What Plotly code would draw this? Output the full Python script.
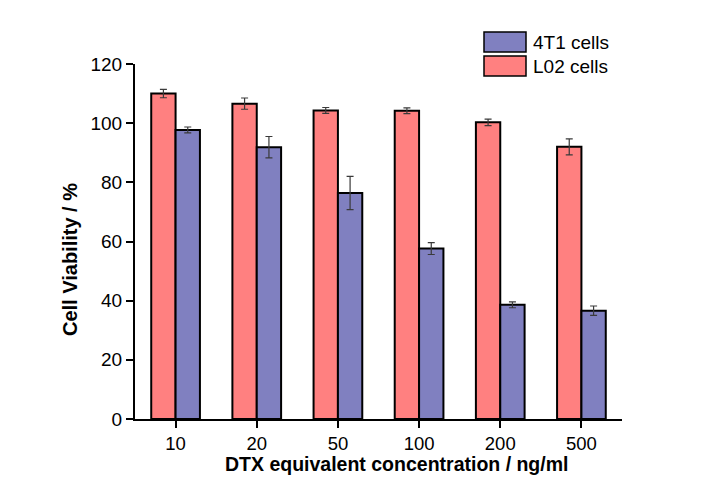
import plotly.graph_objects as go

# Cell viability after 48 h exposure, mean ± SD
concentrations = ["10", "20", "50", "100", "200", "500"]
l02_viability = [110.0, 106.6, 104.3, 104.2, 100.3, 92.0]
l02_sd = [1.4, 1.9, 1.0, 1.0, 1.1, 2.7]
t41_viability = [97.7, 91.9, 76.4, 57.6, 38.6, 36.6]
t41_sd = [1.0, 3.6, 5.6, 2.0, 1.0, 1.6]

series_names = ["L02 cells", "4T1 cells"]
red_fill = "#FF8080"
blue_fill = "#8080C0"

W, H = 709, 492
ML, MR, MT, MB = 135, 87, 64, 73
PW, PH = W - ML - MR, H - MT - MB


def px_x(p):
    return (p - ML) / PW


def px_y(p):
    return (H - MB - p) / PH


FONT = "Liberation Sans, Arial, sans-serif"
err_style = dict(type="data", visible=True, color="#3a3a3a", thickness=1.2, width=3.5)

fig = go.Figure()
fig.add_trace(go.Bar(
    x=concentrations, y=l02_viability, name=series_names[0],
    marker=dict(color=red_fill, line=dict(color="black", width=2)),
    error_y=dict(array=l02_sd, **err_style), showlegend=False,
))
fig.add_trace(go.Bar(
    x=concentrations, y=t41_viability, name=series_names[1],
    marker=dict(color=blue_fill, line=dict(color="black", width=2)),
    error_y=dict(array=t41_sd, **err_style), showlegend=False,
))

# legend drawn as boxed swatches with labels
legend_items = [(series_names[1], blue_fill, 32, 52), (series_names[0], red_fill, 56, 76)]
for label, col, top, bot in legend_items:
    fig.add_shape(type="rect", xref="paper", yref="paper",
                  x0=px_x(484), x1=px_x(526), y0=px_y(bot), y1=px_y(top),
                  fillcolor=col, line=dict(color="black", width=1.5))
    fig.add_annotation(text=label, xref="paper", yref="paper",
                       x=px_x(531), y=px_y((top + bot) / 2),
                       xanchor="left", yanchor="middle", showarrow=False,
                       font=dict(family=FONT, size=19, color="black"))

fig.add_annotation(text="<b>DTX equivalent concentration / ng/ml</b>",
                   xref="paper", yref="paper", x=px_x(396), y=px_y(464),
                   xanchor="center", yanchor="middle", showarrow=False,
                   font=dict(family=FONT, size=19.5, color="black"))
fig.add_annotation(text="<b>Cell Viability / %</b>", textangle=-90,
                   xref="paper", yref="paper", x=px_x(70), y=px_y(260),
                   xanchor="center", yanchor="middle", showarrow=False,
                   font=dict(family=FONT, size=20, color="black"))

fig.update_layout(
    width=W, height=H,
    margin=dict(l=ML, r=MR, t=MT, b=MB, pad=0),
    paper_bgcolor="white", plot_bgcolor="white",
    barmode="group", bargap=0.4, bargroupgap=0.0,
    font=dict(family=FONT, size=19, color="black"),
    xaxis=dict(type="category", range=[-0.5, 5.5], showline=True, linecolor="black",
               linewidth=2, ticks="outside", ticklen=7, tickwidth=2, tickcolor="black",
               showgrid=False, zeroline=False, tickfont=dict(size=18.5)),
    yaxis=dict(range=[0, 120], dtick=20, showline=True, linecolor="black",
               linewidth=2, ticks="outside", ticklen=7, tickwidth=2, tickcolor="black",
               showgrid=False, zeroline=False, tickfont=dict(size=19)),
)

fig.write_html("out.html")
